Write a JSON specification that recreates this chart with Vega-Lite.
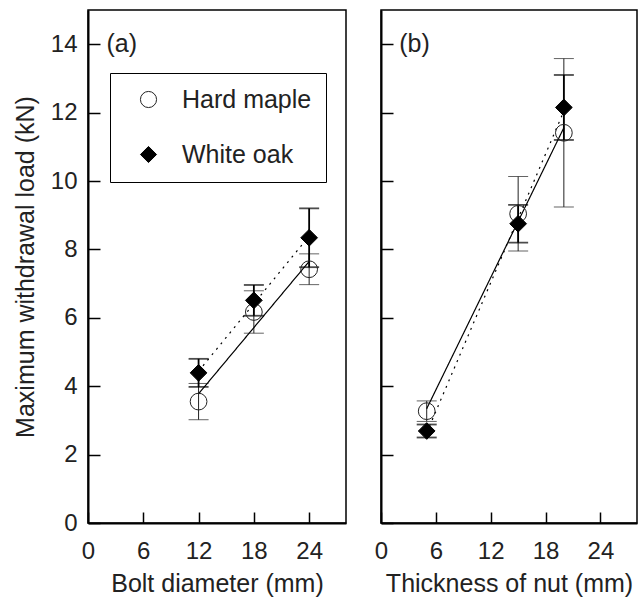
{
  "$schema": "https://vega.github.io/schema/vega-lite/v6.json",
  "padding": {"left": 12, "top": 9, "right": 5, "bottom": 2},
  "config": {
    "font": "Liberation Sans",
    "view": {"stroke": "black", "strokeWidth": 1.5},
    "axis": {
      "domainColor": "black", "domainWidth": 2, "tickColor": "black", "tickWidth": 1.5,
      "labelColor": "#222", "titleColor": "#222", "labelFontSize": 24, "titleFontSize": 25,
      "titleFontWeight": "normal", "grid": false, "labelFlush": false
    },
    "legend": {"orient": "none", "legendX": 22, "legendY": 63,
      "strokeColor": "black", "fillColor": "white", "padding": 14, "symbolOffset": 12,
      "labelFontSize": 25, "labelColor": "#222", "rowPadding": 29, "labelOffset": 21,
      "symbolSize": 260, "symbolStrokeWidth": 1}
  },
  "datasets": {
    "a": [
      {"species": "Hard maple", "x": 12, "load": 3.55, "sd": 0.53},
      {"species": "Hard maple", "x": 18, "load": 6.17, "sd": 0.62},
      {"species": "Hard maple", "x": 24, "load": 7.42, "sd": 0.45},
      {"species": "White oak", "x": 12, "load": 4.39, "sd": 0.41},
      {"species": "White oak", "x": 18, "load": 6.51, "sd": 0.45},
      {"species": "White oak", "x": 24, "load": 8.34, "sd": 0.86}
    ],
    "b": [
      {"species": "Hard maple", "x": 5, "load": 3.27, "sd": 0.30},
      {"species": "Hard maple", "x": 15, "load": 9.04, "sd": 1.09},
      {"species": "Hard maple", "x": 20, "load": 11.41, "sd": 2.17},
      {"species": "White oak", "x": 5, "load": 2.69, "sd": 0.19},
      {"species": "White oak", "x": 15, "load": 8.75, "sd": 0.55},
      {"species": "White oak", "x": 20, "load": 12.15, "sd": 0.95}
    ]
  },
  "spacing": 26,
  "resolve": {
    "scale": {"shape": "independent", "fill": "independent", "stroke": "independent"},
    "legend": {"shape": "independent", "fill": "independent", "stroke": "independent"}
  },
  "hconcat": [
    {
      "width": 258, "height": 513,
      "data": {"name": "a"},
      "layer": [
        {
          "transform": [{"filter": "datum.species === 'Hard maple'"}],
          "mark": {"type": "errorbar", "ticks": true, "size": 20, "thickness": 1, "color": "#222"},
          "encoding": {
            "x": {"field": "x", "type": "quantitative", "title": "Bolt diameter (mm)",
              "scale": {"domain": [0, 28], "nice": false},
              "axis": {"values": [0, 6, 12, 18, 24], "tickSize": -11, "labelPadding": 27, "titlePadding": 8}},
            "y": {"field": "load", "type": "quantitative", "title": "Maximum withdrawal load (kN)",
              "scale": {"domain": [0, 15], "nice": false},
              "axis": {"values": [0,1,2,3,4,5,6,7,8,9,10,11,12,13,14],
                "labelExpr": "datum.value % 2 === 0 ? datum.label : ''",
                "tickSize": {"condition": {"test": "datum.value % 2 === 0", "value": -12}, "value": -6},
                "labelPadding": 23, "titlePadding": 12}},
            "yError": {"field": "sd"}
          }
        },
        {
          "transform": [{"filter": "datum.species === 'White oak'"}],
          "mark": {"type": "errorbar", "ticks": true, "size": 20, "thickness": 1.8, "color": "black"},
          "encoding": {
            "x": {"field": "x", "type": "quantitative", "title": "Bolt diameter (mm)"},
            "y": {"field": "load", "type": "quantitative", "title": "Maximum withdrawal load (kN)"},
            "yError": {"field": "sd"}
          }
        },
        {
          "transform": [{"regression": "load", "on": "x", "groupby": ["species"], "extent": [12, 24]}],
          "mark": {"type": "line", "color": "black", "strokeWidth": 1.2},
          "encoding": {
            "x": {"field": "x", "type": "quantitative", "title": "Bolt diameter (mm)"},
            "y": {"field": "load", "type": "quantitative", "title": "Maximum withdrawal load (kN)"},
            "detail": {"field": "species"},
            "strokeDash": {"condition": {"test": "datum.species === 'White oak'", "value": [2, 5]}, "value": [1, 0]}
          }
        },
        {
          "mark": {"type": "point", "filled": true, "size": 280, "strokeWidth": 1, "opacity": 1},
          "encoding": {
            "x": {"field": "x", "type": "quantitative", "title": "Bolt diameter (mm)"},
            "y": {"field": "load", "type": "quantitative", "title": "Maximum withdrawal load (kN)"},
            "shape": {"field": "species", "type": "nominal", "title": null,
              "scale": {"domain": ["Hard maple", "White oak"], "range": ["circle", "diamond"]},
              "legend": {"labelExpr": "datum.label + '\u00a0\u00a0'"}},
            "fill": {"field": "species", "type": "nominal", "title": null,
              "scale": {"domain": ["Hard maple", "White oak"], "range": ["transparent", "black"]},
              "legend": {"labelExpr": "datum.label + '\u00a0\u00a0'"}},
            "stroke": {"field": "species", "type": "nominal", "title": null,
              "scale": {"domain": ["Hard maple", "White oak"], "range": ["#222", "black"]},
              "legend": {"labelExpr": "datum.label + '\u00a0\u00a0'"}}
          }
        },
        {
          "data": {"values": [{}]},
          "mark": {"type": "text", "text": "(a)", "align": "left", "baseline": "middle", "fontSize": 25, "color": "#222"},
          "encoding": {"x": {"datum": 2, "type": "quantitative"}, "y": {"datum": 14, "type": "quantitative"}}
        }
      ]
    },
    {
      "width": 256, "height": 513,
      "data": {"name": "b"},
      "layer": [
        {
          "transform": [{"filter": "datum.species === 'Hard maple'"}],
          "mark": {"type": "errorbar", "ticks": true, "size": 20, "thickness": 1, "color": "#222"},
          "encoding": {
            "x": {"field": "x", "type": "quantitative", "title": "Thickness of nut (mm)",
              "scale": {"domain": [0, 28], "nice": false},
              "axis": {"values": [0, 6, 12, 18, 24], "tickSize": -11, "labelPadding": 27, "titlePadding": 8}},
            "y": {"field": "load", "type": "quantitative", "title": null,
              "scale": {"domain": [0, 15], "nice": false},
              "axis": {"values": [0,1,2,3,4,5,6,7,8,9,10,11,12,13,14], "labels": false, "title": null,
                "tickSize": {"condition": {"test": "datum.value % 2 === 0", "value": -12}, "value": -6}}},
            "yError": {"field": "sd"}
          }
        },
        {
          "transform": [{"filter": "datum.species === 'White oak'"}],
          "mark": {"type": "errorbar", "ticks": true, "size": 20, "thickness": 1.8, "color": "black"},
          "encoding": {
            "x": {"field": "x", "type": "quantitative", "title": "Thickness of nut (mm)"},
            "y": {"field": "load", "type": "quantitative", "title": null},
            "yError": {"field": "sd"}
          }
        },
        {
          "transform": [{"regression": "load", "on": "x", "groupby": ["species"], "extent": [5, 20]}],
          "mark": {"type": "line", "color": "black", "strokeWidth": 1.2},
          "encoding": {
            "x": {"field": "x", "type": "quantitative", "title": "Thickness of nut (mm)"},
            "y": {"field": "load", "type": "quantitative", "title": null},
            "detail": {"field": "species"},
            "strokeDash": {"condition": {"test": "datum.species === 'White oak'", "value": [2, 5]}, "value": [1, 0]}
          }
        },
        {
          "mark": {"type": "point", "filled": true, "size": 280, "strokeWidth": 1, "opacity": 1},
          "encoding": {
            "x": {"field": "x", "type": "quantitative", "title": "Thickness of nut (mm)"},
            "y": {"field": "load", "type": "quantitative", "title": null},
            "shape": {"field": "species", "type": "nominal", "legend": null,
              "scale": {"domain": ["Hard maple", "White oak"], "range": ["circle", "diamond"]}},
            "fill": {"field": "species", "type": "nominal", "legend": null,
              "scale": {"domain": ["Hard maple", "White oak"], "range": ["transparent", "black"]}},
            "stroke": {"field": "species", "type": "nominal", "legend": null,
              "scale": {"domain": ["Hard maple", "White oak"], "range": ["#222", "black"]}}
          }
        },
        {
          "data": {"values": [{}]},
          "mark": {"type": "text", "text": "(b)", "align": "left", "baseline": "middle", "fontSize": 25, "color": "#222"},
          "encoding": {"x": {"datum": 2, "type": "quantitative"}, "y": {"datum": 14, "type": "quantitative"}}
        }
      ]
    }
  ]
}
